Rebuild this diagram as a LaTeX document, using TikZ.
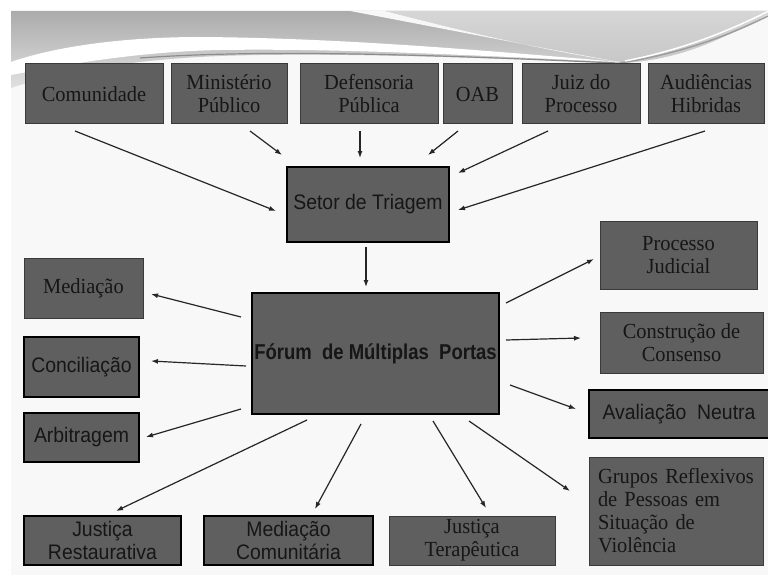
\documentclass[tikz,border=0pt]{standalone}
\usepackage{fontspec}
\setmainfont{Liberation Serif}
\newfontfamily\seriffam[FakeStretch=0.95]{Liberation Serif}
\newfontfamily\sansfam[FakeStretch=0.925]{Liberation Sans}
\newfontfamily\sansplainfam{Liberation Sans}
\usetikzlibrary{arrows.meta,calc}
\definecolor{boxfill}{HTML}{5F5F5F}
\definecolor{boxline}{HTML}{3A3A3A}
\definecolor{txtc}{HTML}{161616}
\definecolor{slidebg}{HTML}{F8F8F8}
\newcommand\serifbox{\fontsize{21.5}{23}\seriffam}
\newcommand\sansbox{\fontsize{21}{23}\sansfam}
\newcommand\sansboldbox{\fontsize{21.5}{23}\sansplainfam\bfseries}
\tikzset{
  bx/.style={draw=boxline, line width=1pt, fill=boxfill, inner sep=0pt, outer sep=0pt,
             text=txtc, align=center, font=\serifbox},
  sbx/.style={bx, draw=black, line width=1.4pt, font=\sansbox},
  arr/.style={-{Latex[length=7pt,width=5pt]}, line width=1.2pt, draw=black!85}
}
\begin{document}
\begin{tikzpicture}[x=1pt,y=-1pt]
\useasboundingbox (0,0) rectangle (768,575);
\fill[white] (0,0) rectangle (768,575);
\fill[slidebg] (11,11) rectangle (768,575);
% top decorative band
\shade[top color=black!33, bottom color=black!12]
  (11,11) -- (768,11) -- (768,14) .. controls (720,40) and (680,60) .. (620,63)
  .. controls (480,58) and (330,52) .. (220,56) .. controls (120,60) and (50,75) .. (11,88) -- cycle;
\shade[top color=black!16, bottom color=black!22]
  (385,11) -- (768,11) -- (768,14) .. controls (720,40) and (680,60) .. (620,63)
  .. controls (540,50) and (450,28) .. (385,11) -- cycle;
\fill[white!97!black] (350,11) -- (385,11) .. controls (450,28) and (540,50) .. (620,62)
  .. controls (530,46) and (430,26) .. (350,11) -- cycle;
\fill[white] (11,62) .. controls (60,45) and (130,37) .. (200,37) .. controls (350,38) and (500,52) .. (620,62)
  .. controls (500,57) and (350,48) .. (220,50) .. controls (130,52) and (60,66) .. (11,75) -- cycle;
\draw[black!45, line width=1.2pt] (140,58) .. controls (250,50) and (400,53) .. (615,63);
\draw[black!38, line width=1.5pt] (620,63) .. controls (690,52) and (735,32) .. (768,16);
\draw[white, line width=1.5pt] (625,61) .. controls (692,48) and (738,26) .. (768,11.5);

% top row
\node[bx, minimum width=138pt, minimum height=60pt] (com) at (94,94) {Comunidade};
\node[bx, minimum width=116pt, minimum height=60pt] (min) at (229,94) {Ministério\\Público};
\node[bx, minimum width=138pt, minimum height=60pt] (def) at (369,94) {Defensoria\\Pública};
\node[bx, minimum width=69pt, minimum height=60pt] (oab) at (477.5,94) {OAB};
\node[bx, minimum width=118pt, minimum height=60pt] (juiz) at (581,94) {Juiz do\\Processo};
\node[bx, minimum width=116pt, minimum height=60pt] (aud) at (706,94) {Audiências\\Hibridas};

% centre
\node[sbx, minimum width=162pt, minimum height=75pt] (tri) at (368,204.5) {Setor de Triagem};
\node[sbx, minimum width=247pt, minimum height=121pt, font=\sansboldbox] (forum) at (375.5,353.5)
  {\scalebox{0.86}[1]{Fórum\ \ de Múltiplas\ \ Portas}};

% left column
\node[bx, minimum width=119pt, minimum height=60pt] (med) at (83.5,288) {Mediação};
\node[sbx, minimum width=115pt, minimum height=60pt] (conc) at (81.5,367) {Conciliação};
\node[sbx, minimum width=115pt, minimum height=49pt] (arb) at (81.5,437.5) {Arbitragem};

% right column
\node[bx, minimum width=157pt, minimum height=68pt] (proc) at (678.5,255) {Processo\\Judicial};
\node[bx, minimum width=163pt, minimum height=61pt] (cons) at (681.5,342.5) {Construção de\\Consenso};
\node[sbx, minimum width=180pt, minimum height=48pt] (aval) at (679,414) {Avaliação\ \ Neutra};
\node[bx, minimum width=174pt, minimum height=108pt, align=left, text width=156pt] (grp) at (676,511) {Grupos Reflexivos\\de Pessoas em\\Situação de\\Violência};

% bottom row
\node[sbx, minimum width=157pt, minimum height=49pt] (jr) at (102.5,540.5) {Justiça\\Restaurativa};
\node[sbx, minimum width=169pt, minimum height=49pt] (mc) at (288.5,540.5) {Mediação\\Comunitária};
\node[bx, minimum width=166pt, minimum height=49pt] (jt) at (472,540.5) {Justiça\\Terapêutica};

% arrows into triage
\draw[arr] ($(com.south)+(-19,7)$) -- ($(tri.west)+(-11,6.5)$);
\draw[arr] ($(min.south)+(21,7)$) -- ($(tri.north west)+(-5,-12)$);
\draw[arr] ($(def.south)+(-9,7)$) -- ($(tri.north)+(-8,-9)$);
\draw[arr] ($(oab.south)+(-19.5,7)$) -- ($(tri.north east)+(-21,-12)$);
\draw[arr] ($(juiz.south)+(-33,7)$) -- ($(tri.north east)+(9,6)$);
\draw[arr] ($(aud.south)+(-1,7)$) -- ($(tri.east)+(9,5.5)$);
\draw[arr] ($(tri.south)+(-2,5)$) -- ($(forum.north)+(-9.5,-6)$);

% arrows out of the forum
\draw[arr] ($(forum.west)+(-11,-36.5)$) -- ($(med.east)+(8,6)$);
\draw[arr] ($(forum.west)+(-6,12.5)$) -- ($(conc.east)+(12,-6)$);
\draw[arr] ($(forum.west)+(-11,55.5)$) -- ($(arb.east)+(7,-0.5)$);
\draw[arr] ($(forum.south)+(-68.5,6)$) -- ($(jr.north)+(13.5,-5)$);
\draw[arr] ($(forum.south)+(-14.5,10)$) -- ($(mc.north)+(26.5,-7)$);
\draw[arr] ($(forum.south)+(57.5,7)$) -- ($(jt.north)+(14,-8)$);
\draw[arr] ($(forum.south)+(93.5,7)$) -- ($(grp.west)+(-19,-20)$);
\draw[arr] ($(forum.east)+(7,-50.5)$) -- ($(proc.west)+(-6,4)$);
\draw[arr] ($(forum.east)+(7,-13.5)$) -- ($(cons.west)+(-19,-4.5)$);
\draw[arr] ($(forum.east)+(11,31.5)$) -- ($(aval.west)+(-13,-5)$);
\end{tikzpicture}
\end{document}
